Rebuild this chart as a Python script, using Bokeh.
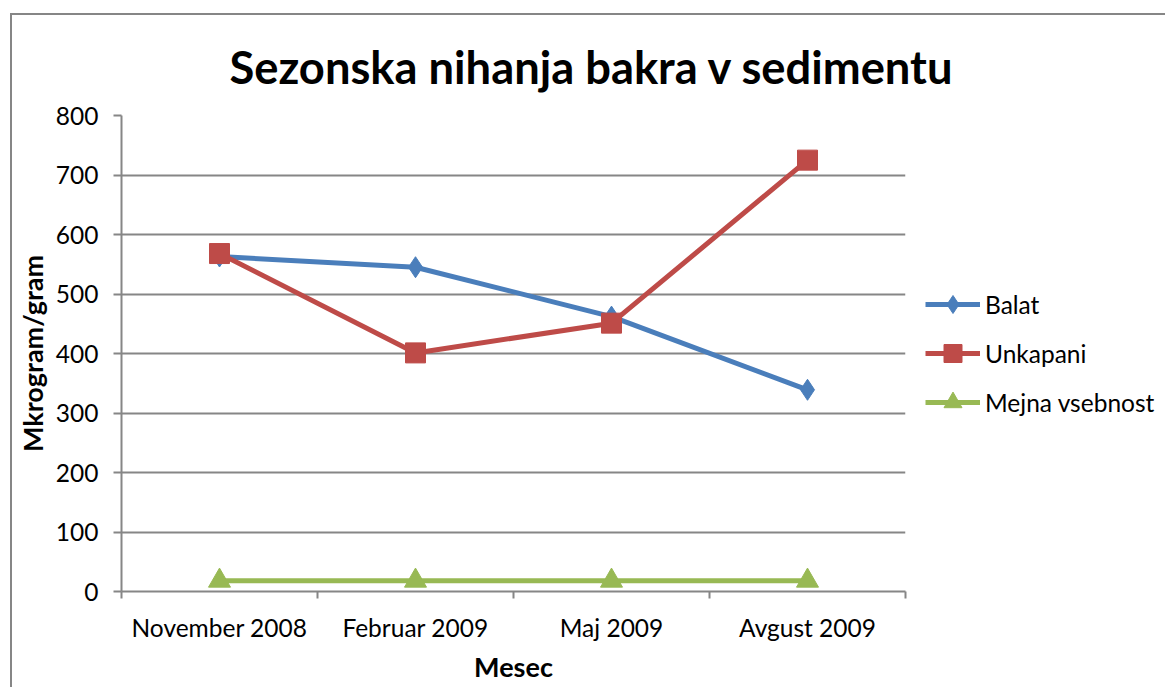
from bokeh.plotting import figure
from bokeh.models import (FixedTicker, Legend, LegendItem, Title, Range1d)
from bokeh.embed import file_html
from bokeh.resources import INLINE

categories = ["November 2008", "Februar 2009", "Maj 2009", "Avgust 2009"]
balat = [563, 545, 462, 339]
unkapani = [568, 401, 451, 725]
mejna = [18, 18, 18, 18]
y_ticks = [0, 100, 200, 300, 400, 500, 600, 700, 800]

FONT = "Lato"
GRAY = "#868686"
TICK_FS = "24.5px"
LABEL_FS = "27px"

xs = [i + 0.5 for i in range(len(categories))]

p = figure(frame_width=784, frame_height=476, x_range=Range1d(0, len(categories)), y_range=Range1d(0, 800),
           output_backend="svg", toolbar_location=None,
           min_border_left=109, min_border_right=0, min_border_top=100, min_border_bottom=96)
p.margin = (13, 0, 0, 10)
p.styles = {"border-left": "2px solid #868686", "border-top": "2px solid #868686"}
p.outline_line_color = None
p.background_fill_color = "white"
p.border_fill_color = "white"

# title
title = Title(text="Sezonska nihanja bakra v sedimentu", align="left", offset=108,
              vertical_align="top",
              text_font=FONT, text_font_style="bold", text_font_size="45.3px",
              text_color="black", standoff=40)
p.title = title

# axes
p.xaxis.ticker = FixedTicker(ticks=xs, minor_ticks=list(range(len(categories) + 1)))
p.xaxis.major_label_overrides = {x: c for x, c in zip(xs, categories)}
p.xaxis.major_tick_out = 0
p.xaxis.major_tick_in = 0
p.xaxis.minor_tick_out = 7
p.xaxis.minor_tick_in = 0
p.xaxis.minor_tick_line_color = GRAY
p.xaxis.axis_line_color = GRAY
p.xaxis.axis_line_width = 2
p.xaxis.minor_tick_line_width = 2
p.xaxis.major_label_text_font = FONT
p.xaxis.major_label_text_font_size = TICK_FS
p.xaxis.major_label_text_color = "black"
p.xaxis.major_label_standoff = 14
p.xaxis.axis_label = "Mesec"
p.xaxis.axis_label_text_font = FONT
p.xaxis.axis_label_text_font_style = "bold"
p.xaxis.axis_label_text_font_size = LABEL_FS
p.xaxis.axis_label_text_color = "black"
p.xaxis.axis_label_standoff = 5

p.yaxis.ticker = FixedTicker(ticks=y_ticks)
p.yaxis.minor_tick_line_color = None
p.yaxis.major_tick_out = 8
p.yaxis.major_tick_in = 0
p.yaxis.major_tick_line_color = GRAY
p.yaxis.major_tick_line_width = 2
p.yaxis.axis_line_color = GRAY
p.yaxis.axis_line_width = 2
p.yaxis.major_label_text_font = FONT
p.yaxis.major_label_text_font_size = TICK_FS
p.yaxis.major_label_text_color = "black"
p.yaxis.major_label_standoff = 15
p.yaxis.axis_label = "Mkrogram/gram"
p.yaxis.axis_label_text_font = FONT
p.yaxis.axis_label_text_font_style = "bold"
p.yaxis.axis_label_text_font_size = LABEL_FS
p.yaxis.axis_label_text_color = "black"
p.yaxis.axis_label_standoff = 4

p.xgrid.grid_line_color = None
p.ygrid.ticker = FixedTicker(ticks=y_ticks)
p.ygrid.grid_line_color = GRAY
p.ygrid.grid_line_width = 2

colors = ["#4A7EBB", "#BE4B48", "#98B954"]
series = [("Balat", balat, "diamond", 21), ("Unkapani", unkapani, "square", 20), ("Mejna vsebnost", mejna, "triangle", 22)]
items = []
for (name, vals, marker, size), col in zip(series, colors):
    lr = p.line(xs, vals, line_color=col, line_width=5)
    sr = p.scatter(xs, vals, marker=marker, size=size, fill_color=col, line_color=col)
    items.append(LegendItem(label=name, renderers=[lr, sr]))

legend = Legend(items=items, location="center_left", glyph_width=55, glyph_height=45,
                spacing=4, padding=0, margin=20, label_standoff=5,
                label_text_font=FONT, label_text_font_size=TICK_FS, label_text_color="black",
                border_line_color=None, background_fill_alpha=0)
p.add_layout(legend, "right")

open("out.html", "w").write(file_html(p, INLINE))
